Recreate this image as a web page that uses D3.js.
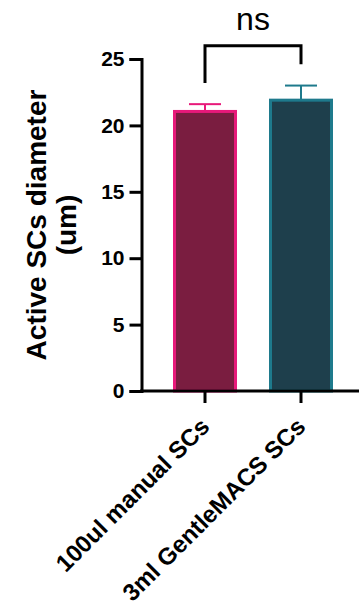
<!DOCTYPE html>
<html>
<head>
<meta charset="utf-8">
<script src="https://cdn.jsdelivr.net/npm/d3@7"></script>
<style>
  html, body { margin: 0; padding: 0; background: #fff; }
  svg { display: block; font-family: "Liberation Sans", Arial, sans-serif; }
</style>
</head>
<body>
<svg id="chart" width="359" height="614"></svg>
<script>
// ---- data ----
const categories = ["100ul manual SCs", "3ml GentleMACS SCs"];
const means = [21.05, 21.9];
const errUpper = [21.6, 23.0];
const yTicks = [0, 5, 10, 15, 20, 25];
const fillColors = ["#7a1d40", "#1e3f4c"];
const strokeColors = ["#e8197a", "#1e7a8c"];
const sigLabel = "ns";
const bracketLevels = [23.2, 26.0, 24.6]; // left leg end, top, right leg end
const yTitleLines = ["Active SCs diameter", "(um)"];

// ---- layout ----
const svg = d3.select("#chart");
const x = d3.scaleBand().domain(categories).range([141, 365]).padding(1 / 3);
const y = d3.scaleLinear().domain([0, 25]).range([391, 59]);

// bars
const bars = categories.map((c, i) => ({ c, m: means[i], e: errUpper[i], i }));

svg.append("g").selectAll("rect").data(bars).join("rect")
  .attr("x", d => x(d.c) + 1.5)
  .attr("width", x.bandwidth() - 3)
  .attr("y", d => y(d.m))
  .attr("height", d => y(0) - y(d.m))
  .attr("fill", d => fillColors[d.i])
  .attr("stroke", d => strokeColors[d.i])
  .attr("stroke-width", 3);

// error bars
const eg = svg.append("g");
bars.forEach(d => {
  const cx = x(d.c) + x.bandwidth() / 2;
  eg.append("line").attr("x1", cx).attr("x2", cx)
    .attr("y1", y(d.m)).attr("y2", y(d.e))
    .attr("stroke", strokeColors[d.i]).attr("stroke-width", 2);
  eg.append("line").attr("x1", cx - 16).attr("x2", cx + 16)
    .attr("y1", y(d.e)).attr("y2", y(d.e))
    .attr("stroke", strokeColors[d.i]).attr("stroke-width", 2);
});

// y axis
const yAxis = svg.append("g").attr("transform", "translate(141.5,0)")
  .call(d3.axisLeft(y).tickValues(yTicks).tickSize(12).tickSizeOuter(12).tickPadding(5));
yAxis.select(".domain").attr("stroke", "#000").attr("stroke-width", 3);
yAxis.selectAll(".tick line").attr("stroke", "#000").attr("stroke-width", 3);
yAxis.selectAll(".tick text")
  .attr("font-size", 21).attr("font-weight", "bold").attr("fill", "#000")
  .attr("font-family", "'Liberation Sans', Arial, sans-serif");

// x axis
const xAxis = svg.append("g").attr("transform", "translate(0,391)")
  .call(d3.axisBottom(x).tickSize(12).tickSizeOuter(0).tickFormat(""));
xAxis.select(".domain").attr("stroke", "#000").attr("stroke-width", 3)
  .attr("d", "M140,0H365");
xAxis.selectAll(".tick line").attr("stroke", "#000").attr("stroke-width", 3);

// x labels (rotated)
svg.append("g").selectAll("text").data(categories).join("text")
  .attr("transform", d => `translate(${x(d) + x.bandwidth() / 2 + 6},428) rotate(-45)`)
  .attr("text-anchor", "end")
  .attr("font-size", 24).attr("font-weight", "bold").attr("fill", "#000")
  .text(d => d);

// y title
const yt = svg.append("text")
  .attr("transform", `translate(0,${(y(0) + y(25)) / 2}) rotate(-90)`)
  .attr("text-anchor", "middle")
  .attr("font-size", 28).attr("font-weight", "bold").attr("fill", "#000");
yTitleLines.forEach((t, i) => {
  yt.append("tspan").attr("x", 0).attr("y", 46 + i * 30).text(t);
});

// significance bracket
const xl = x(categories[0]) + x.bandwidth() / 2;
const xr = x(categories[1]) + x.bandwidth() / 2;
svg.append("path")
  .attr("d", `M${xl},${y(bracketLevels[0])}V${y(bracketLevels[1])}H${xr}V${y(bracketLevels[2])}`)
  .attr("fill", "none").attr("stroke", "#000").attr("stroke-width", 3);
svg.append("text")
  .attr("x", (xl + xr) / 2).attr("y", 30)
  .attr("text-anchor", "middle")
  .attr("font-size", 32).attr("fill", "#000")
  .text(sigLabel);
</script>
</body>
</html>
